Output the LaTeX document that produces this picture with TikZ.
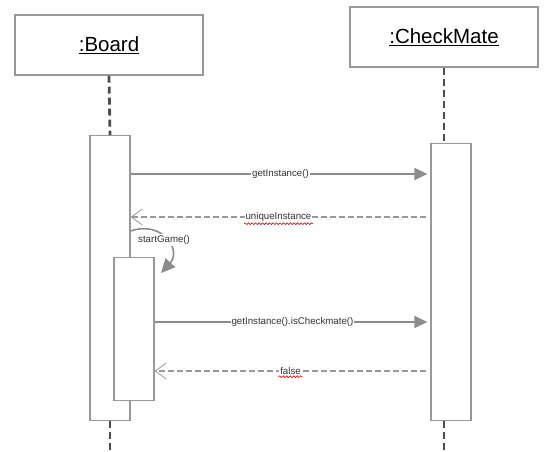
\documentclass[tikz,border=0pt]{standalone}
\usepackage{fontspec}
\setmainfont{Liberation Sans}
\usetikzlibrary{arrows.meta,decorations.pathmorphing}

\definecolor{boxgray}{HTML}{999999}
\definecolor{linegray}{HTML}{8C8C8C}
\definecolor{lifegray}{HTML}{4D4D4D}
\definecolor{txtgray}{HTML}{333333}

\tikzset{
    objbox/.style={draw=boxgray, line width=1.3pt, fill=white, minimum width=188pt, minimum height=60pt, text=black, font=\fontsize{20.5}{24}\selectfont},
    actbox/.style={draw=boxgray, line width=1.3pt, fill=white, minimum width=40pt, inner sep=0pt},
    lifeline/.style={draw=lifegray, line width=2.8pt, dash pattern=on 7pt off 4pt},
    msg/.style={draw=linegray, line width=1.6pt, -{Triangle[length=13pt,width=12pt]}, shorten >=3pt},
    reply/.style={draw=boxgray, line width=1.3pt, dash pattern=on 6pt off 3pt, -{Straight Barb[length=11pt,width=16pt,line width=0.8pt]}},
    lbl/.style={fill=white, text=txtgray, inner sep=1pt, font=\fontsize{9.7}{11}\selectfont},
    spell/.style={draw=red!85!black, line width=0.6pt, decorate, decoration={snake, segment length=3.5pt, amplitude=0.9pt}}
}

\begin{document}
\begin{tikzpicture}[x=1pt, y=-1pt]
    \useasboundingbox (0,0) rectangle (551,452);
    %\draw[lightgray] (0,0) grid[step=50] (551,452);
    % objects
    \node[objbox] (board) at (109,45) {\underline{:Board}};
    \node[objbox] (chk) at (444,37) {\underline{:CheckMate}};
    % activations
    \node[actbox, minimum height=285pt, anchor=north] (bact) at (110,135) {};
    \node[actbox, minimum height=277pt, anchor=north] (cact) at (451,143) {};
    \coordinate (bottom) at (0,452);
    % lifelines
    \draw[lifeline] (board.south) -- (bact.north);
    \draw[lifeline] (bact.south) -- (bact.south |- bottom);
    \draw[lifeline] (chk.south) -- (chk.south |- cact.north);
    \draw[lifeline] (chk.south |- cact.south) -- (chk.south |- bottom);
    % message heights
    \coordinate (m1) at (0,174);
    \coordinate (m2) at (0,217);
    \coordinate (m3) at (0,231);
    \coordinate (m4) at (0,322);
    \coordinate (m5) at (0,371);
    % messages
    \draw[msg] (bact.east |- m1) -- node[lbl] (gi) {getInstance()} (cact.west |- m1);
    \draw[reply] (cact.west |- m2) ++(-4,0) -- node[lbl] (ui) {uniqueInstance} (bact.east |- m2);
    \draw[msg, shorten >=0pt, -{Triangle[length=14pt,width=13pt]}] (bact.east |- m3) .. controls (162,220) and (182,250) .. (161,273);
    \node[lbl, anchor=west] (sg) at (137,240) {startGame()};
    \node[actbox, minimum height=143pt, anchor=north] (sact) at (134,257) {};
    \draw[msg] (sact.east |- m4) -- node[lbl] (ic) {getInstance().isCheckmate()} (cact.west |- m4);
    \draw[reply] (cact.west |- m5) ++(-4,0) -- node[lbl] (fa) {false} (sact.east |- m5);
    % spell marks
    \draw[spell] ([yshift=-0.5pt]ui.south west) -- ([yshift=-0.5pt]ui.south east);
    \draw[spell] ([yshift=-0.5pt]fa.south west) -- ([yshift=-0.5pt]fa.south east);
\end{tikzpicture}
\end{document}
